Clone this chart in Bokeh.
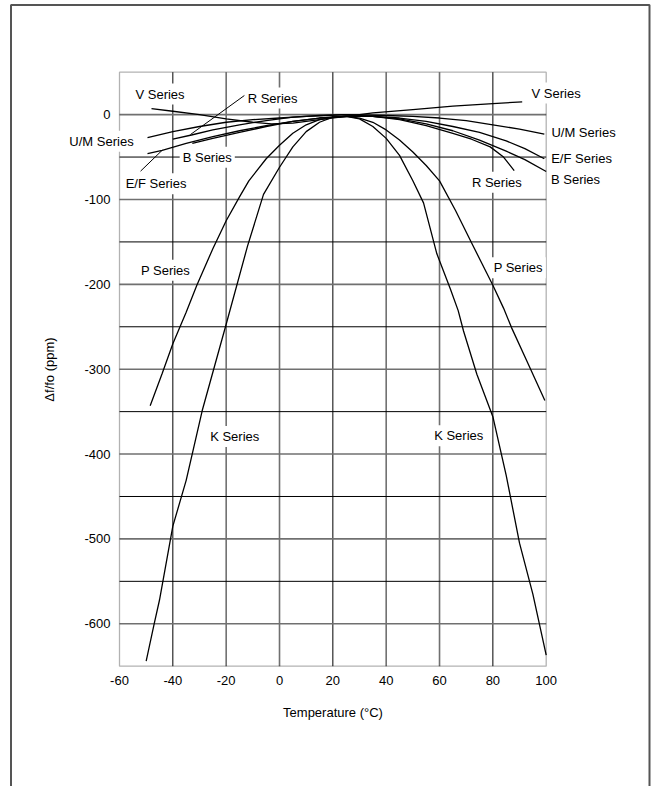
from bokeh.plotting import figure
from bokeh.models import Range1d, FixedTicker, Label, BoxAnnotation, LinearAxis
from bokeh.embed import file_html
from bokeh.resources import INLINE

FONT = "Liberation Sans"

# ---- data (temperature in deg C, frequency deviation in ppm) ----
v_t = [-48, -40, -30, -20, -10, -3, 5, 15, 25, 35, 50, 65, 80, 91]
v_ppm = [7, 4, 0, -5, -9, -11, -10, -6, -2, 2, 6, 10, 13, 15]

um_t = [-49.5, -40, -30, -20, -10, 0, 10, 25, 40, 50, 60, 70, 80, 90, 99.3]
um_ppm = [-27, -20, -14, -9, -6, -4, -2, 0, -1, -2, -4, -7, -12, -17, -23]

r_t = [-40, -33, -25, -15, -5, 5, 15, 25, 35, 45, 55, 65, 72, 79, 84, 88]
r_ppm = [-29, -24, -18, -12, -7, -3, -1, 0, -2, -6, -13, -22, -29, -38, -50, -66]

ef_t = [-49.5, -44, -35, -25, -15, -5, 5, 15, 25, 35, 45, 55, 65, 75, 85, 92, 99.3]
ef_ppm = [-46, -42, -34, -26, -19, -13, -8, -4, -2, -2, -4, -8, -14, -21, -31, -40, -52]

b_t = [-32.7, -25, -15, -5, 5, 15, 25, 35, 45, 55, 65, 75, 85, 92, 100]
b_ppm = [-34, -28, -21, -14, -8, -4, -2, -2, -5, -11, -19, -30, -43, -53, -67]

p_t = [-48.5, -44, -40, -35, -31, -25, -20, -15, -11.5, -5, 0, 5, 10, 15, 20, 25,
       30, 35, 40, 45, 50, 55, 60, 66, 72, 76, 80, 84, 87, 93, 99.5]
p_ppm = [-343, -305, -270, -233, -201, -158, -125, -97, -78, -52, -36, -22, -12, -6, -3, -2,
         -4, -9, -18, -30, -44, -60, -78, -113, -151, -176, -201, -228, -251, -292, -337]

k_t = [-50, -47, -45, -40, -35, -29, -20, -12, -6, 0, 5, 10, 15, 20, 25, 30, 35, 40,
       45, 50, 54, 59, 64, 67, 69, 74, 80, 85, 90, 95, 100]
k_ppm = [-644, -600, -572, -485, -431, -349, -247, -155, -94, -62, -38, -20, -9, -3, -2, -5, -14, -28,
         -48, -78, -104, -164, -205, -231, -255, -306, -356, -425, -505, -565, -637]

curves = [(v_t, v_ppm), (um_t, um_ppm), (r_t, r_ppm), (ef_t, ef_ppm),
          (b_t, b_ppm), (p_t, p_ppm), (k_t, k_ppm)]

# leader lines (label -> curve)
leaders = [([-13.1, -33.4], [22.7, -23.5]),   # R Series
           ([-52.1, -44.0], [-66.6, -42.0])]  # E/F Series

# series labels: text, temperature, ppm
label_text = ["V Series", "R Series", "U/M Series", "E/F Series", "B Series",
              "P Series", "K Series", "P Series", "K Series",
              "V Series", "U/M Series", "E/F Series", "B Series", "R Series"]
label_t = [-44.8, -2.6, -66.75, -46.3, -27.1, -42.75, -16.8, 89.5, 67.2,
           103.7, 114.0, 113.25, 111.0, 81.5]
label_ppm = [24.2, 19.5, -31.4, -81.6, -50.2, -183.4, -379.3, -180.3, -378.5,
             25.4, -21.6, -51.7, -76.4, -79.6]

x_ticks = [-60, -40, -20, 0, 20, 40, 60, 80, 100]
y_ticks = [-600, -500, -400, -300, -200, -100, 0]
grid_x_dark = [-40, 20, 80]
grid_x_light = [-20, 0, 40, 60]
grid_y_dark = [-550, -450, -350, -250, -150, -50]
grid_y_light = [-600, -500, -400, -300, -200, -100, 0]

X_MIN, X_MAX = -60, 100
Y_MIN, Y_MAX = -650, 50

# canvas geometry: plot area placed at canvas px (119..545.7, 71.7..665.7)
W, H = 660, 786
PX_X = 426.7 / (X_MAX - X_MIN)
PX_Y = 594.0 / (Y_MAX - Y_MIN)
x0 = X_MIN - 119 / PX_X
x1 = x0 + W / PX_X
y1 = Y_MAX + 71.7 / PX_Y
y0 = y1 - H / PX_Y

p = figure(width=W, height=H, min_border=0,
           x_range=Range1d(x0, x1), y_range=Range1d(y0, y1),
           x_axis_location=None, y_axis_location=None,
           output_backend="svg", toolbar_location=None,
           background_fill_color="white", border_fill_color="white")
p.outline_line_color = None
p.grid.visible = False

# outer page frame (open at the bottom)
fl, fr = x0 + 10.5 / PX_X, x0 + 649 / PX_X
ft, fb = y1 - 4.5 / PX_Y, y0 - 50
p.line([fl, fl, fr, fr], [fb, ft, ft, fb], line_color="#555555", line_width=2)

# grid lines
p.segment(x0=grid_x_dark, y0=[Y_MIN] * len(grid_x_dark), x1=grid_x_dark, y1=[Y_MAX] * len(grid_x_dark),
          line_color="black", line_width=1)
p.segment(x0=grid_x_light, y0=[Y_MIN] * len(grid_x_light), x1=grid_x_light, y1=[Y_MAX] * len(grid_x_light),
          line_color="#707070", line_width=1.6)
p.segment(x0=[X_MIN] * len(grid_y_dark), y0=grid_y_dark, x1=[X_MAX] * len(grid_y_dark), y1=grid_y_dark,
          line_color="black", line_width=1)
p.segment(x0=[X_MIN] * len(grid_y_light), y0=grid_y_light, x1=[X_MAX] * len(grid_y_light), y1=grid_y_light,
          line_color="#707070", line_width=1.6)

# plot-area border
p.add_layout(BoxAnnotation(left=X_MIN, right=X_MAX, bottom=Y_MIN, top=Y_MAX,
                           fill_color=None, fill_alpha=0, line_color="black", line_width=1.3))

# axes
xax = LinearAxis(fixed_location=Y_MIN, bounds=(X_MIN, X_MAX), ticker=FixedTicker(ticks=x_ticks),
                 axis_label="Temperature (°C)")
yax = LinearAxis(fixed_location=X_MIN, bounds=(Y_MIN, Y_MAX), ticker=FixedTicker(ticks=y_ticks),
                 axis_label="Δf/fo (ppm)")
for ax in (xax, yax):
    ax.axis_line_color = None
    ax.major_tick_line_color = None
    ax.minor_tick_line_color = None
    ax.major_tick_out = 0
    ax.major_tick_in = 0
    ax.major_label_text_font = FONT
    ax.major_label_text_font_size = "13px"
    ax.major_label_text_color = "black"
    ax.axis_label_text_font = FONT
    ax.axis_label_text_font_size = "13px"
    ax.axis_label_text_font_style = "normal"
    ax.axis_label_text_color = "black"
xax.major_label_overrides = {t: str(t) for t in x_ticks}
yax.major_label_overrides = {t: str(t) for t in y_ticks}
xax.major_label_standoff = 10
xax.axis_label_standoff = 16
yax.major_label_standoff = 9
yax.axis_label_standoff = 24
p.add_layout(xax, "below")
p.add_layout(yax, "left")

# curves
for xs, ys in curves:
    p.line(xs, ys, line_color="black", line_width=1.3)
for xs, ys in leaders:
    p.line(xs, ys, line_color="black", line_width=1)

for txt, tx, ty in zip(label_text, label_t, label_ppm):
    p.add_layout(Label(x=tx, y=ty, text=txt, text_align="center", text_baseline="middle",
                       text_font=FONT, text_font_size="13px", text_color="black",
                       background_fill_color="white", padding=3))

open("out.html", "w").write(file_html(p, INLINE))
